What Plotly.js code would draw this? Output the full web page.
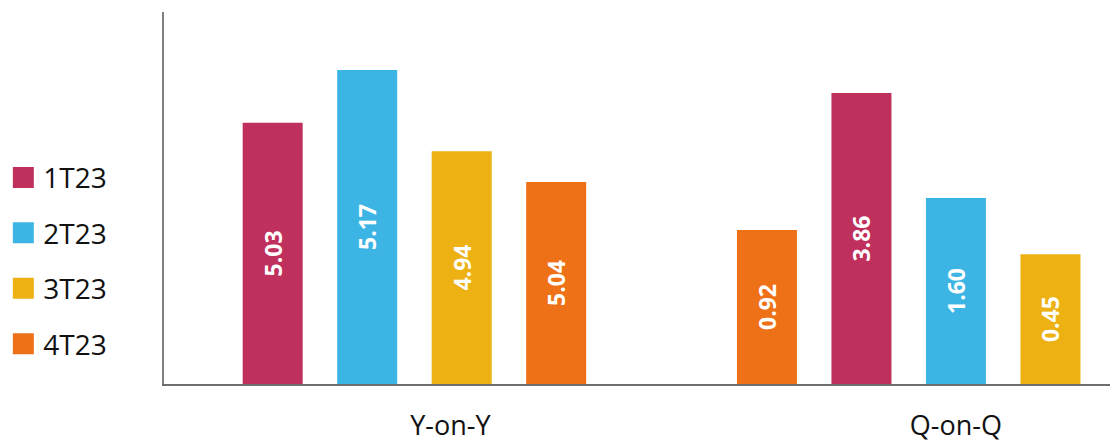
<!DOCTYPE html>
<html><head><meta charset="utf-8">
<script src="https://cdn.plot.ly/plotly-3.0.1.min.js"></script>
<style>html,body{margin:0;padding:0;background:#fff}#chart{width:1110px;height:445px}</style>
</head><body><div id="chart"></div>
<script>
// Series and groups
const series = ['1T23', '2T23', '3T23', '4T23'];
const colors = ['#C0305C', '#3DB5E4', '#EDB114', '#EE7118'];
const groups = ['Y-on-Y', 'Q-on-Q'];
// order of the bars inside each group
const orderYoY = ['1T23', '2T23', '3T23', '4T23'];
const orderQoQ = ['4T23', '1T23', '2T23', '3T23'];
// printed values, per series
const labelYoY = [5.03, 5.17, 4.94, 5.04];
const labelQoQ = [3.86, 1.60, 0.45, 0.92];
// bar lengths as drawn (relative units), per series
const heightYoY = [7.02, 8.44, 6.26, 5.43];
const heightQoQ = [7.82, 5.00, 3.49, 4.14];

const groupStart = [1, 6.23];
const orders = [orderYoY, orderQoQ];
const FONT = '"Open Sans", "Noto Sans", sans-serif';

const traces = [];
series.forEach((s, i) => {
  traces.push({
    type: 'bar',
    name: s,
    x: orders.map((o, g) => groupStart[g] + o.indexOf(s)),
    y: [heightYoY[i], heightQoQ[i]],
    text: [labelYoY[i].toFixed(2), labelQoQ[i].toFixed(2)],
    textposition: 'inside',
    insidetextanchor: 'middle',
    textangle: -90,
    constraintext: 'none',
    textfont: {family: FONT, size: 23, color: '#ffffff', weight: 'bold'},
    width: 0.635,
    marker: {color: colors[i]},
    showlegend: false,
    legendgroup: s,
    hoverinfo: 'skip'
  });
});
series.forEach((s, i) => {
  traces.push({
    type: 'scatter',
    mode: 'markers',
    name: s,
    x: [null], y: [null],
    marker: {symbol: 'square', size: 16, color: colors[i], line: {width: 5, color: colors[i]}},
    legendgroup: s,
    showlegend: true,
    hoverinfo: 'skip'
  });
});

const layout = {
  width: 1110, height: 445,
  margin: {l: 164, r: 0, t: 12, b: 61},
  paper_bgcolor: '#ffffff', plot_bgcolor: '#ffffff',
  font: {family: FONT, color: '#111111'},
  barmode: 'overlay',
  xaxis: {
    range: [-0.15, 9.86], showline: true, linecolor: '#6e6e6e', linewidth: 2,
    showgrid: false, zeroline: false, ticks: '',
    tickvals: [2.88, 8.23], ticktext: groups,
    tickfont: {family: FONT, size: 27, color: '#111111'},
    ticklabelstandoff: 17, fixedrange: true
  },
  yaxis: {
    range: [0, 10], showline: true, linecolor: '#808080', linewidth: 2,
    showgrid: false, zeroline: false, showticklabels: false, ticks: '', fixedrange: true
  },
  legend: {
    orientation: 'v', xref: 'container', yref: 'container',
    x: 0.003, xanchor: 'left', y: 0.414, yanchor: 'middle',
    font: {family: FONT, size: 28, color: '#111111'},
    tracegroupgap: 16, bgcolor: 'rgba(0,0,0,0)', itemclick: false, itemdoubleclick: false
  },
  showlegend: true
};

Plotly.newPlot('chart', traces, layout, {displayModeBar: false, staticPlot: true});
</script>
</body></html>
